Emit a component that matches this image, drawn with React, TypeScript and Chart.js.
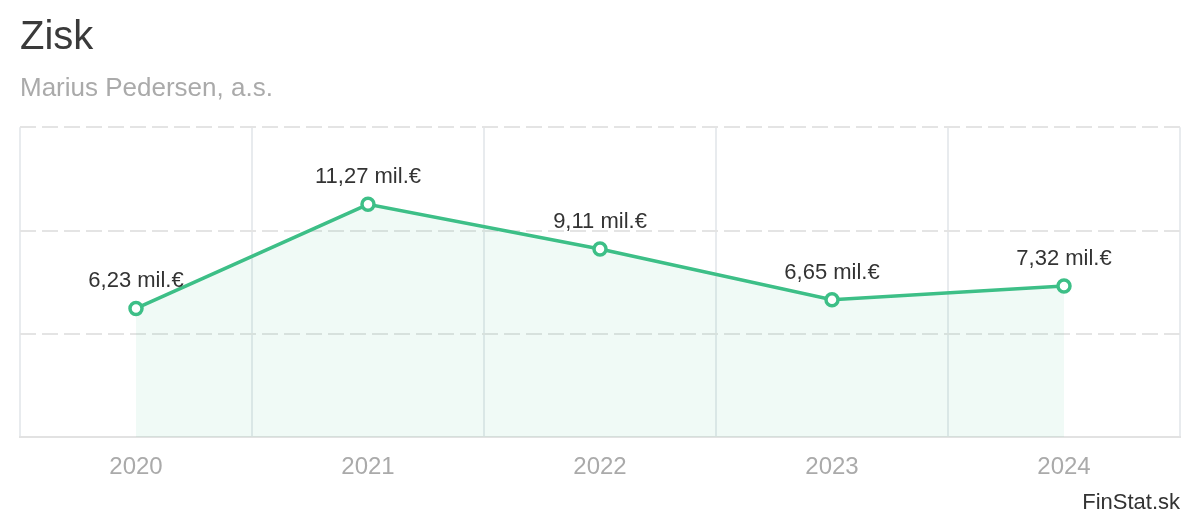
import React, { useEffect, useRef } from 'react';
import { Chart, registerables } from 'chart.js';

Chart.register(...registerables);

const FONT = '"Liberation Sans", Arial, Helvetica, sans-serif';

const categories: string[] = ['2020', '2021', '2022', '2023', '2024'];
const profitValues: number[] = [6.23, 11.27, 9.11, 6.65, 7.32];
const yTickValues: number[] = [0, 5, 10, 15];
const titleText = 'Zisk';
const subtitleText = 'Marius Pedersen, a.s.';
const sourceText = 'FinStat.sk';

const formatValue = (v: number) => v.toFixed(2).replace('.', ',') + ' mil.€';

const valueLabelPlugin = {
  id: 'valueLabels',
  afterDatasetsDraw(chart: any) {
    const meta = chart.getDatasetMeta(0);
    const ctx = chart.ctx;
    ctx.save();
    ctx.font = `22px ${FONT}`;
    ctx.fillStyle = '#333333';
    ctx.textAlign = 'center';
    ctx.textBaseline = 'alphabetic';
    meta.data.forEach((pt: any, i: number) => {
      ctx.fillText(formatValue(profitValues[i]), pt.x, pt.y - 21);
    });
    ctx.restore();
  },
};

const sourcePlugin = {
  id: 'sourceLabel',
  afterDraw(chart: any) {
    const ctx = chart.ctx;
    ctx.save();
    ctx.font = `22px ${FONT}`;
    ctx.fillStyle = '#333333';
    ctx.textAlign = 'right';
    ctx.textBaseline = 'alphabetic';
    ctx.fillText(sourceText, chart.width - 20, 509);
    ctx.restore();
  },
};

export default function App() {
  const canvasRef = useRef<HTMLCanvasElement | null>(null);

  useEffect(() => {
    document.body.style.margin = '0';
    const canvas = canvasRef.current;
    if (!canvas) return;
    Chart.defaults.font.family = FONT;
    const chart = new Chart(canvas, {
      type: 'line',
      data: {
        labels: categories,
        datasets: [
          {
            data: profitValues,
            borderColor: '#3dbf87',
            borderWidth: 3.5,
            backgroundColor: 'rgba(61,191,135,0.08)',
            fill: 'origin',
            tension: 0,
            pointRadius: 6,
            pointBorderWidth: 3.5,
            pointBackgroundColor: '#ffffff',
            pointBorderColor: '#3dbf87',
          },
        ],
      },
      options: {
        animation: false,
        responsive: true,
        maintainAspectRatio: false,
        layout: { padding: { left: 20, right: 20, top: 0, bottom: 22 } },
        plugins: {
          legend: { display: false },
          tooltip: { enabled: false },
          title: {
            display: true,
            text: titleText,
            align: 'start',
            color: '#3a3a3a',
            font: { size: 40, weight: 'normal', family: FONT },
            padding: { top: 14, bottom: 0 },
          },
          subtitle: {
            display: true,
            text: subtitleText,
            align: 'start',
            color: '#aaaaaa',
            font: { size: 26, weight: 'normal', family: FONT },
            padding: { top: 11, bottom: 23 },
          },
        },
        scales: {
          x: {
            offset: true,
            grid: { offset: true, color: '#e8ebee', lineWidth: 2, drawTicks: false },
            border: { display: true, color: '#e2e2e2', width: 2 },
            ticks: { color: '#aaaaaa', font: { size: 24, family: FONT }, padding: 16 },
          },
          y: {
            min: 0,
            max: 15,
            afterBuildTicks: (scale: any) => {
              scale.ticks = yTickValues.map((v) => ({ value: v }));
            },
            ticks: { display: false },
            grid: { color: '#e4e4e4', lineWidth: 2, drawTicks: false },
            border: { display: false, dash: [16, 6] },
          },
        },
      },
      plugins: [valueLabelPlugin, sourcePlugin],
    } as any);
    return () => chart.destroy();
  }, []);

  return (
    <div style={{ width: '1200px', height: '520px', position: 'relative' }}>
      <canvas ref={canvasRef} />
    </div>
  );
}
